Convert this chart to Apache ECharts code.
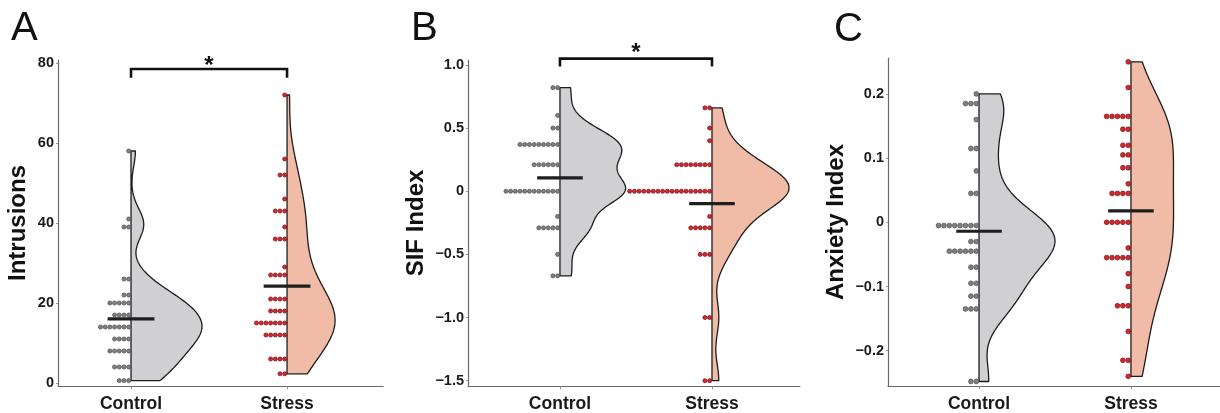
<!DOCTYPE html>
<html><head><meta charset="utf-8">
<script src="https://cdn.jsdelivr.net/npm/echarts@6/dist/echarts.min.js"></script>
<style>html,body{margin:0;padding:0;background:#fff}#c{width:1220px;height:413px}</style>
</head><body><div id="c"></div>
<script>
// ---------- data ----------
const categories = ['Control', 'Stress'];
const panelLetters = ['A', 'B', 'C'];
const yTitles = ['Intrusions', 'SIF Index', 'Anxiety Index'];

const intrusionsControlValues = [58, 41, 39, 26, 22, 20, 17, 14, 11, 8, 4, 0.6];
const intrusionsControlCounts = [1, 1, 2, 2, 2, 5, 4, 7, 4, 5, 4, 3];
const intrusionsStressValues = [72, 56, 52, 46, 43, 39, 36, 29, 27, 21, 18, 15, 12, 6, 2.3];
const intrusionsStressCounts = [1, 1, 2, 1, 3, 1, 3, 1, 4, 4, 4, 7, 5, 4, 2];

const sifControlValues = [0.82, 0.6, 0.5, 0.37, 0.21, 0, -0.2, -0.29, -0.5, -0.67];
const sifControlCounts = [2, 1, 2, 9, 6, 12, 1, 5, 1, 2];
const sifStressValues = [0.66, 0.5, 0.4, 0.21, 0, -0.2, -0.29, -0.5, -1.0, -1.5];
const sifStressCounts = [2, 1, 1, 8, 18, 1, 5, 3, 2, 2];

const anxietyControlValues = [0.2, 0.185, 0.16, 0.115, 0.08, 0.045, -0.005, -0.03, -0.045, -0.07, -0.095, -0.115, -0.135, -0.248];
const anxietyControlCounts = [1, 3, 1, 2, 1, 2, 8, 2, 6, 2, 2, 2, 3, 2];
const anxietyStressValues = [0.25, 0.21, 0.165, 0.145, 0.12, 0.105, 0.085, 0.06, 0.045, 0, -0.04, -0.055, -0.08, -0.1, -0.13, -0.17, -0.215, -0.24];
const anxietyStressCounts = [1, 1, 5, 2, 2, 2, 2, 1, 4, 5, 1, 5, 1, 1, 3, 1, 2, 1];

const intrusionsTicks = [0, 20, 40, 60, 80];
const sifTicks = [-1.5, -1.0, -0.5, 0, 0.5, 1.0];
const anxietyTicks = [-0.2, -0.1, 0, 0.1, 0.2];

// significance brackets (data units): bar level, drop, star level
const intrusionsBracket = [78.5, 2.2, 80.6];
const sifBracket = [1.05, 0.063, 1.135];

// ---------- layout / style ----------
const FONT = 'Liberation Sans, Arial, Helvetica, sans-serif';
const panels = [
  { grid: { left: 58, top: 60, width: 325, height: 327 }, x: [0.532, 2.615], y: [-0.75, 80.75],
    groups: [[intrusionsControlValues, intrusionsControlCounts], [intrusionsStressValues, intrusionsStressCounts]],
    ticks: intrusionsTicks, fmt: v => String(v), half: 0.455, dot: 4.7, nameGap: 28, bracket: intrusionsBracket,
    letter: [24, 28] },
  { grid: { left: 468, top: 60, width: 332, height: 327 }, x: [0.395, 2.579], y: [-1.542, 1.039],
    groups: [[sifControlValues, sifControlCounts], [sifStressValues, sifStressCounts]],
    ticks: sifTicks, fmt: v => v === 0 ? '0' : v.toFixed(1).replace('-', '\u2212'), half: 0.507, dot: 4.7, nameGap: 40, bracket: sifBracket,
    letter: [424, 28] },
  { grid: { left: 888, top: 58, width: 332, height: 330 }, x: [0.401, 2.586], y: [-0.255, 0.256],
    groups: [[anxietyControlValues, anxietyControlCounts], [anxietyStressValues, anxietyStressCounts]],
    ticks: anxietyTicks, fmt: v => v === 0 ? '0' : v.toFixed(1).replace('-', '\u2212'), half: 0.5, dot: 5.4, nameGap: 40, bracket: null,
    letter: [847, 29] }
];
const fills = ['#d0cfd1', '#f1bca7'];
const dotFill = ['#808080', '#d8262f'];
const dotStroke = ['#4a4a4a', '#6e1116'];

// ---------- helpers ----------
function expand(vals, counts) { const o = []; vals.forEach((v, i) => { for (let k = 0; k < counts[i]; k++) o.push(v); }); return o; }
function quantile(s, p) { const h = (s.length - 1) * p, lo = Math.floor(h); return s[lo] + (h - lo) * (s[Math.min(lo + 1, s.length - 1)] - s[lo]); }
function bwNrd0(x) {
  const n = x.length, m = x.reduce((a, b) => a + b, 0) / n;
  const sd = Math.sqrt(x.reduce((a, b) => a + (b - m) * (b - m), 0) / (n - 1));
  const s = [...x].sort((a, b) => a - b);
  let lo = Math.min(sd, (quantile(s, 0.75) - quantile(s, 0.25)) / 1.34);
  if (!(lo > 0)) lo = sd || 1;
  return 0.9 * lo * Math.pow(n, -0.2);
}
function kde(x) {
  const bw = bwNrd0(x), mn = Math.min(...x), mx = Math.max(...x), N = 240, ys = [], ds = [];
  for (let i = 0; i < N; i++) {
    const y = mn + (mx - mn) * i / (N - 1); let s = 0;
    for (const xi of x) { const u = (y - xi) / bw; s += Math.exp(-0.5 * u * u); }
    ys.push(y); ds.push(s / (x.length * bw * Math.sqrt(2 * Math.PI)));
  }
  return { ys, ds };
}

const series = [], grids = [], xAxes = [], yAxes = [], graphics = [];
panels.forEach((p, pi) => {
  grids.push(p.grid);
  xAxes.push({ gridIndex: pi, type: 'value', min: p.x[0], max: p.x[1],
    axisLine: { show: true, onZero: false, lineStyle: { color: '#6a6a6a', width: 1.2 } },
    axisTick: { show: true, length: 3, lineStyle: { color: '#8a8a8a' }, customValues: [1, 2] },
    axisLabel: { customValues: [1, 2], formatter: v => categories[Math.round(v) - 1], fontFamily: FONT, fontWeight: 'bold', fontSize: 17.5, color: '#1a1a1a', margin: 9 },
    splitLine: { show: false } });
  yAxes.push({ gridIndex: pi, type: 'value', min: p.y[0], max: p.y[1],
    name: yTitles[pi], nameLocation: 'middle', nameRotate: 90, nameGap: p.nameGap,
    nameTextStyle: { fontFamily: FONT, fontWeight: 'bold', fontSize: 24, color: '#111' },
    axisLine: { show: true, onZero: false, lineStyle: { color: '#6a6a6a', width: 1.2 } },
    axisTick: { show: true, length: 2, lineStyle: { color: '#9a9a9a' }, customValues: p.ticks },
    axisLabel: { customValues: p.ticks, formatter: p.fmt, fontFamily: FONT, fontWeight: 'bold', fontSize: 14.5, color: '#1a1a1a', margin: 4 },
    splitLine: { show: false } });

  const raws = p.groups.map(g => expand(g[0], g[1]));
  const dens = raws.map(kde);
  const dmax = Math.max(...dens.map(d => Math.max(...d.ds)));

  // violins
  series.push({ type: 'custom', xAxisIndex: pi, yAxisIndex: pi, z: 2, silent: true,
    data: [[1, 0], [2, 0]],
    renderItem: (params, api) => {
      const g = params.dataIndex, d = dens[g], pos = g + 1, pts = [];
      d.ys.forEach((y, i) => pts.push(api.coord([pos + p.half * d.ds[i] / dmax, y])));
      pts.push(api.coord([pos, d.ys[d.ys.length - 1]]));
      pts.push(api.coord([pos, d.ys[0]]));
      return { type: 'polygon', shape: { points: pts }, style: { fill: fills[g], stroke: '#1c1c1c', lineWidth: 1.3, lineJoin: 'round' } };
    } });

  // dots (stacked leftwards from the category line)
  p.groups.forEach((g, gi) => {
    const data = [];
    g[0].forEach((v, i) => { for (let k = 0; k < g[1][i]; k++) data.push([gi + 1, v, k]); });
    series.push({ type: 'custom', xAxisIndex: pi, yAxisIndex: pi, z: 3, silent: true, data,
      encode: { x: 0, y: 1 },
      renderItem: (params, api) => {
        const c = api.coord([api.value(0), api.value(1)]), k = api.value(2), s = p.dot;
        return { type: 'circle', shape: { cx: c[0] - s / 2 - k * s, cy: c[1], r: s / 2 - 0.3 },
          style: { fill: dotFill[gi], stroke: dotStroke[gi], lineWidth: 0.7 } };
      } });
  });

  // means
  const means = raws.map(r => r.reduce((a, b) => a + b, 0) / r.length);
  series.push({ type: 'custom', xAxisIndex: pi, yAxisIndex: pi, z: 4, silent: true,
    data: means.map((m, i) => [i + 1, m]),
    renderItem: (params, api) => {
      const a = api.coord([api.value(0) - 0.15, api.value(1)]), b = api.coord([api.value(0) + 0.15, api.value(1)]);
      return { type: 'line', shape: { x1: a[0], y1: a[1], x2: b[0], y2: b[1] }, style: { stroke: '#1e1e1e', lineWidth: 3.2 } };
    } });

  // significance bracket
  if (p.bracket) {
    const [by, drop, sy] = p.bracket;
    series.push({ type: 'line', xAxisIndex: pi, yAxisIndex: pi, z: 5, silent: true, clip: false, symbol: 'none',
      lineStyle: { color: '#111', width: 2.6, cap: 'butt', join: 'miter' },
      data: [[1, by - drop], [1, by], [2, by], [2, by - drop]] });
    series.push({ type: 'custom', xAxisIndex: pi, yAxisIndex: pi, z: 5, silent: true, clip: false,
      data: [[1.5, sy]],
      renderItem: (params, api) => {
        const c = api.coord([api.value(0), api.value(1)]);
        return { type: 'text', x: c[0], y: c[1] + 6, style: { text: '*', font: 'bold 24px ' + FONT, fill: '#111', align: 'center', verticalAlign: 'middle' } };
      } });
  }

  graphics.push({ type: 'text', left: p.letter[0] - 13, top: p.letter[1] - 19,
    style: { text: panelLetters[pi], font: '40px ' + FONT, fill: '#111' } });
});

const chart = echarts.init(document.getElementById('c'), null, { renderer: 'canvas' });
chart.setOption({ animation: false, backgroundColor: '#fff', grid: grids, xAxis: xAxes, yAxis: yAxes, series, graphic: graphics });
</script></body></html>
